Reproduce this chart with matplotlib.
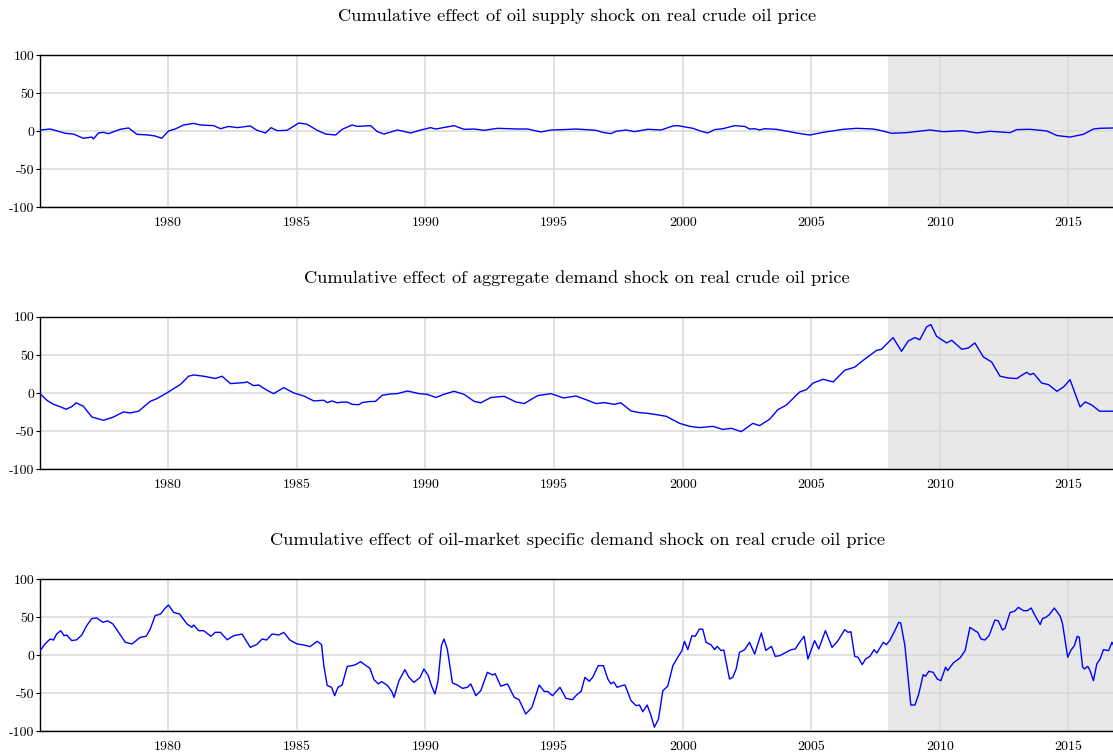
import matplotlib
matplotlib.use("Agg")
import matplotlib.pyplot as plt

plt.rcParams['font.family'] = ['cmr10', 'DejaVu Serif']
plt.rcParams['axes.unicode_minus'] = False

titles = [
    "Cumulative effect of oil supply shock on real crude oil price",
    "Cumulative effect of aggregate demand shock on real crude oil price",
    "Cumulative effect of oil-market specific demand shock on real crude oil price",
]

supply_t = [1975.02, 1975.41, 1975.60, 1975.99, 1976.31, 1976.70, 1977.03, 1977.09, 1977.29, 1977.48,
            1977.68, 1978.13, 1978.46, 1978.78, 1979.23, 1979.49, 1979.75, 1980.01, 1980.27, 1980.60,
            1980.99, 1981.25, 1981.77, 1982.03, 1982.35, 1982.68, 1983.19, 1983.45, 1983.78, 1984.00,
            1984.23, 1984.62, 1985.08, 1985.40, 1985.79, 1986.12, 1986.51, 1986.76, 1987.15, 1987.35,
            1987.87, 1988.13, 1988.39, 1988.91, 1989.43, 1989.82, 1990.20, 1990.40, 1991.11, 1991.50,
            1991.89, 1992.28, 1992.80, 1993.58, 1993.97, 1994.49, 1994.88, 1995.37,
            1995.85, 1996.24, 1996.63, 1996.89, 1997.21, 1997.41, 1997.80, 1998.12, 1998.64, 1999.16,
            1999.62, 1999.81, 2000.40, 2000.72, 2000.98, 2001.24, 2001.56, 2002.02, 2002.41, 2002.60,
            2002.80, 2002.99, 2003.19, 2003.64, 2004.16, 2004.48, 2004.94, 2005.46, 2006.24, 2006.76,
            2007.41, 2007.66, 2008.12, 2008.70, 2009.61, 2010.13, 2010.65, 2010.91, 2011.43, 2011.95,
            2012.73, 2012.99, 2013.51, 2014.16, 2014.55, 2015.06, 2015.58, 2015.97, 2016.21, 2016.80]
supply_v = [1.3, 2.6, 0.9, -3, -4, -9.6, -8, -10.5, -2.6, -1.8,
            -3.5, 2.2, 4, -4.4, -5.3, -6.6, -9.6, 0, 2.6, 7.9,
            10, 7.9, 7, 3, 6, 4.4, 6.6, 0.9, -2.6, 4.4,
            0.4, 0.9, 10.5, 8.8, 0.9, -4, -5.3, 2.2, 7.9, 6,
            7, -0.9, -4, 1.3, -2.6, 1.3, 4.4, 2.6, 7, 2.2,
            2.6, 0.9, 3.5, 2.6, 2.6, -1.3, 1.3, 1.8,
            2.6, 1.8, 0.9, -1.8, -3.5, -0.4, 1.3, -0.9, 2.2, 1.3,
            6.6, 7, 3.5, -0.4, -2.6, 1.8, 3, 7, 6, 2.6,
            3, 1.3, 3, 2.2, -0.9, -3, -5.3, -1.8, 2.2, 3.5,
            2.6, 0.9, -3, -2.2, 1.3, -0.9, 0, 0.4, -2.6, -0.4,
            -2.2, 1.8, 2.2, 0, -6, -8, -4.4, 2.6, 3.5, 4]

demand_t = [1975.02, 1975.28, 1975.54, 1975.79, 1976.03, 1976.25, 1976.42, 1976.70, 1977.03, 1977.48,
            1977.87, 1978.26, 1978.52, 1978.85, 1979.30, 1979.56, 1980.01, 1980.21, 1980.47, 1980.79,
            1980.99, 1981.38, 1981.83, 1982.09, 1982.42, 1982.94, 1983.07, 1983.32, 1983.52, 1983.84,
            1984.10, 1984.49, 1984.88, 1985.27, 1985.66, 1986.05, 1986.18, 1986.37, 1986.57, 1986.76,
            1986.96, 1987.15, 1987.41, 1987.54, 1987.80, 1988.06, 1988.32, 1988.65, 1988.91, 1989.30,
            1989.75, 1990.07, 1990.40, 1990.72, 1991.11, 1991.50, 1991.89, 1992.15, 1992.54, 1993.06,
            1993.51, 1993.84, 1994.36, 1994.88, 1995.37,
            1995.85, 1996.24, 1996.63, 1996.95, 1997.34, 1997.60, 1997.99, 1998.32, 1998.64, 1998.97,
            1999.36, 1999.88, 2000.27, 2000.66, 2001.17, 2001.56, 2001.89, 2002.28, 2002.73, 2002.99,
            2003.38, 2003.70, 2004.03, 2004.55, 2004.81, 2005.07, 2005.46, 2005.85, 2006.30, 2006.69,
            2007.02, 2007.54, 2007.73, 2008.18, 2008.51, 2008.77, 2009.03, 2009.22, 2009.48, 2009.65,
            2009.87, 2010.26, 2010.46, 2010.85, 2011.11, 2011.36, 2011.69, 2012.01, 2012.34, 2012.66,
            2012.99, 2013.18, 2013.38, 2013.51, 2013.64, 2013.96, 2014.22, 2014.55, 2014.81, 2015.06,
            2015.45, 2015.65, 2015.91, 2016.21, 2016.80]
demand_v = [-1, -9.6, -15, -18, -21.5, -18, -13, -17.5, -31.6, -36,
            -31.6, -25, -26.3, -24, -11, -7.5, 1.3, 5.7, 11, 22,
            23.7, 22, 19, 22, 12.3, 13.6, 14.5, 9.6, 10.5, 3.5,
            -0.9, 7, 0, -4, -10.5, -9.6, -12.7, -10.5, -13, -12,
            -12, -15, -15.4, -12.7, -11.4, -11, -3, -1.3, -0.9, 2.6,
            -0.9, -1.8, -6, -1.8, 2.2, -1.8, -11, -13, -6, -4.4,
            -11.8, -14, -3.5, -0.9, -6.6,
            -4, -8.8, -14, -12.7, -15, -13, -23.7, -25.9, -26.8, -28.5,
            -30.7, -40, -43.9, -45.6, -43.9, -48, -46.5, -50.9, -40, -43,
            -34.6, -22, -16, 1.3, 4.4, 13, 18, 14.5, 29.8, 34,
            43, 56, 57.5, 72.8, 54.8, 68.4, 72.8, 70, 86.8, 90,
            74.6, 65.8, 69.3, 57.5, 59.2, 65.8, 47.4, 40.8, 22, 19.7,
            18.9, 23.2, 27.2, 24, 25.9, 13, 11, 2.2, 7.9, 17.5,
            -18.4, -11.8, -16, -24, -24]

specific_t = [1975.02, 1975.21, 1975.41, 1975.54, 1975.66, 1975.82, 1975.95, 1976.05, 1976.25, 1976.44,
              1976.64, 1976.83, 1977.03, 1977.22, 1977.46, 1977.64, 1977.85, 1978.07, 1978.33, 1978.59,
              1978.91, 1979.14, 1979.30, 1979.49, 1979.71, 1979.85, 1980.01, 1980.21, 1980.44, 1980.73,
              1980.92, 1980.99, 1981.18, 1981.38, 1981.66, 1981.83, 1982.03, 1982.29, 1982.55, 1982.87,
              1983.19, 1983.45, 1983.65, 1983.82, 1984.04, 1984.30, 1984.49, 1984.73, 1985.01, 1985.27,
              1985.51, 1985.79, 1985.96, 1986.05, 1986.18, 1986.35, 1986.47, 1986.60, 1986.76, 1986.96,
              1987.15, 1987.28, 1987.48, 1987.65, 1987.84, 1988.00, 1988.17, 1988.30, 1988.52, 1988.69,
              1988.78, 1988.97, 1989.20, 1989.36, 1989.55, 1989.79, 1989.94, 1990.11, 1990.24, 1990.37,
              1990.49, 1990.62, 1990.72, 1990.85, 1991.05, 1991.24, 1991.44, 1991.63, 1991.76, 1991.96,
              1992.15, 1992.41, 1992.61, 1992.71, 1992.93, 1993.19, 1993.45, 1993.64, 1993.90, 1994.14,
              1994.42, 1994.62, 1994.75, 1994.94, 1995.23, 1995.46, 1995.72, 1995.85,
              1995.92, 1996.05, 1996.20, 1996.37, 1996.50, 1996.72, 1996.92, 1997.09, 1997.21, 1997.32,
              1997.45, 1997.67, 1997.76, 1997.99, 1998.19, 1998.32, 1998.45, 1998.62, 1998.77, 1998.90,
              1999.06, 1999.23, 1999.42, 1999.62, 1999.81, 1999.97, 2000.07, 2000.20, 2000.36, 2000.49,
              2000.65, 2000.78, 2000.91, 2001.11, 2001.24, 2001.34, 2001.50, 2001.60, 2001.82, 2001.95,
              2002.08, 2002.21, 2002.41, 2002.60, 2002.80, 2003.06, 2003.23, 2003.45, 2003.60, 2003.77,
              2003.97, 2004.22, 2004.38, 2004.52, 2004.72, 2004.87, 2005.13, 2005.29, 2005.55, 2005.81,
              2006.04, 2006.30, 2006.43, 2006.54, 2006.69, 2006.82, 2006.98, 2007.11, 2007.28, 2007.44,
              2007.55, 2007.80, 2007.92, 2008.05, 2008.25, 2008.40, 2008.48, 2008.64, 2008.87, 2009.03,
              2009.18, 2009.35, 2009.44, 2009.57, 2009.74, 2009.90, 2010.04, 2010.22, 2010.30, 2010.52,
              2010.78, 2010.98, 2011.17, 2011.36, 2011.47, 2011.60, 2011.75, 2011.91, 2012.14, 2012.27,
              2012.43, 2012.53, 2012.73, 2012.90, 2013.05, 2013.25, 2013.40, 2013.55, 2013.70, 2013.90,
              2013.99, 2014.12, 2014.25, 2014.45, 2014.68, 2014.77, 2014.97, 2015.10, 2015.23, 2015.34,
              2015.42, 2015.55, 2015.62, 2015.75, 2015.84, 2015.97, 2016.10, 2016.23, 2016.36, 2016.56,
              2016.69, 2016.80]
specific_v = [5.7, 14.5, 21, 19.7, 27.6, 32, 25.4, 26.3, 18.9, 20,
              26.3, 38.6, 48, 48.7, 43, 45, 40.8, 29.8, 16.7, 14.5,
              23.2, 24.6, 34, 51.8, 54, 60.5, 65.8, 56, 54, 40.8,
              36.4, 39.5, 32, 32, 24.6, 29.8, 29.8, 20, 25.4, 27.6,
              10, 14, 21, 19.7, 27.6, 26.3, 29.8, 19.7, 14.5, 13.2,
              11, 18, 13.6, -14, -40, -42.5, -53.5, -42.5, -39.5, -15,
              -14, -12.7, -8.8, -13, -17.5, -32.5, -38, -35, -40, -48,
              -55.7, -33.8, -19.3, -29.4, -36, -29.4, -18.4, -27.2, -41, -51.3,
              -33.8, 12.3, 21, 7.9, -36.8, -39.5, -43.9, -42.5, -38, -53.5,
              -47, -22.8, -26.3, -24.6, -41, -38, -55.7, -58.8, -77.6, -68.9,
              -39.5, -48, -48, -53.5, -42.5, -57, -58.8, -53.5,
              -51.3, -48, -29.4, -34.6, -29.4, -14, -14, -31.6, -38, -35.5,
              -42.5, -40, -39.5, -60, -66.7, -65.8, -74.6, -65.8, -79.8, -95,
              -84.2, -47, -41, -14, -3, 5.7, 18, 7, 25.4, 24.6,
              34, 34, 16.7, 13.2, 7, 11.4, 5.7, 6.6, -31.6, -29.4,
              -18.4, 3.5, 7, 16.7, 1.3, 29, 6, 11.4, -1.8, -0.9,
              2.6, 7, 7.9, 15.4, 24.6, -5.3, 18.9, 7.9, 32, 10,
              18.9, 33.3, 29.8, 30.7, -1.8, -3, -12.7, -5.3, -1.8, 7,
              2.6, 16.7, 13.6, 18.9, 32, 43, 42, 12.3, -65.8, -65.8,
              -51.3, -25.9, -28, -21.5, -22.8, -31.6, -33.8, -16, -20.6, -10.5,
              -4, 5.7, 36.4, 32, 29.8, 21, 19.7, 25.4, 46, 45,
              32.9, 35, 56, 57.5, 62.7, 58.3, 58.3, 61.8, 51.8, 40,
              48, 49.6, 53, 61.8, 51, 40.8, -3, 6.6, 12.3, 24.6,
              23.2, -16, -18.4, -15, -20.6, -33.8, -11.8, -5.3, 7, 5.7,
              16.7, 10]

series = [(supply_t, supply_v), (demand_t, demand_v), (specific_t, specific_v)]

xticks = [1980, 1985, 1990, 1995, 2000, 2005, 2010, 2015]
yticks = [-100, -50, 0, 50, 100]
ytick_labels = ["-100", "-50", "0", "50", "100"]
shade_start = 2008.0
x_range = (1975.0, 2016.8)

fig = plt.figure(figsize=(11.13, 7.53), dpi=100)
bottoms = [0.7251, 0.3772, 0.0292]
for (t, v), title, b in zip(series, titles, bottoms):
    ax = fig.add_axes([0.0356, b, 0.9660, 0.2019])
    ax.set_axisbelow(True)
    ax.axvspan(shade_start, x_range[1] + 1, color='#e8e8e8', zorder=0, lw=0)
    ax.plot(t, v, color='#0000ff', lw=1.0, zorder=3)
    ax.set_xlim(*x_range)
    ax.set_ylim(-100, 100)
    ax.set_xticks(xticks)
    ax.set_xticklabels([str(x) for x in xticks], fontsize=10)
    ax.set_yticks(yticks)
    ax.set_yticklabels(ytick_labels, fontsize=10)
    ax.grid(True, color='#d8d8d8', lw=1.1)
    ax.tick_params(axis='x', length=0, pad=7)
    ax.tick_params(axis='y', length=3, width=0.8, pad=1, direction='out')
    for s in ['left', 'top', 'bottom']:
        ax.spines[s].set_color('black')
        ax.spines[s].set_linewidth(1.0)
    ax.spines['right'].set_visible(False)
    ax.set_title(title, fontsize=13.2, pad=24.5)

fig.savefig("out.png", dpi=100)
